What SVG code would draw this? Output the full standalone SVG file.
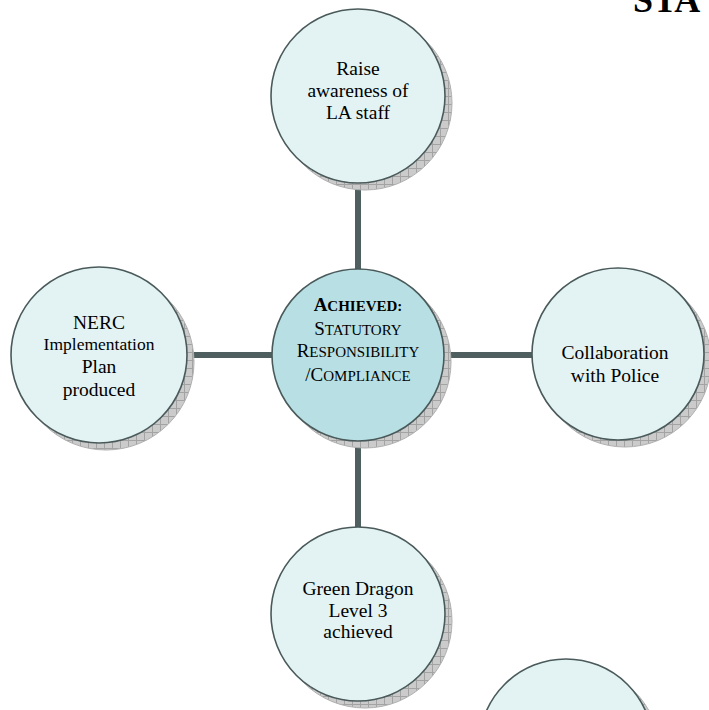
<svg xmlns="http://www.w3.org/2000/svg" width="709" height="710" viewBox="0 0 709 710">
<defs>
<pattern id="hatch" width="8" height="8" patternUnits="userSpaceOnUse">
<rect width="8" height="8" fill="#cbcbcb"/>
<path d="M0 0.5H8M0.5 0V8" stroke="#a3a3a3" stroke-width="1"/>
</pattern>
<style>
.conn{stroke:#4f5f5f;stroke-width:6;fill:none}
.shadow{fill:url(#hatch);stroke:#b0b0b0;stroke-width:1}
.node{fill:#e3f3f4;stroke:#4a5a5a;stroke-width:1.6}
.hub{fill:#b8e0e4;stroke:#4a5a5a;stroke-width:1.6}
text{font-family:"Liberation Serif","Times New Roman",serif;fill:#000;text-anchor:middle}
.t{font-size:19.5px}
.big{font-size:19px}
.sm{font-size:15px}
</style>
</defs>
<rect width="709" height="710" fill="#fff"/>
<text x="633" y="12" style="font-size:36px;font-weight:bold;text-anchor:start">STA</text>
<g id="connectors">
<line class="conn" x1="358" y1="180" x2="358" y2="270"/>
<line class="conn" x1="190" y1="355" x2="272" y2="355"/>
<line class="conn" x1="444" y1="355" x2="533" y2="355"/>
<line class="conn" x1="358" y1="440" x2="358" y2="529"/>
</g>
<g id="node-top">
<circle class="shadow" cx="365" cy="103" r="87"/>
<circle class="node" cx="358" cy="96" r="87"/>
<text class="t" x="358" y="75">Raise</text>
<text class="t" x="358" y="97">awareness of</text>
<text class="t" x="358" y="119">LA staff</text>
</g>
<g id="node-left">
<circle class="shadow" cx="106" cy="362" r="88"/>
<circle class="node" cx="99" cy="355" r="88"/>
<text class="t" x="99" y="329">NERC</text>
<text x="99" y="350" style="font-size:17.5px">Implementation</text>
<text class="t" x="99" y="373">Plan</text>
<text class="t" x="99" y="396">produced</text>
</g>
<g id="node-right">
<circle class="shadow" cx="625" cy="361" r="86"/>
<circle class="node" cx="618" cy="354" r="86"/>
<text class="t" x="615" y="359">Collaboration</text>
<text class="t" x="615" y="382">with Police</text>
</g>
<g id="node-bottom">
<circle class="shadow" cx="365" cy="621" r="87"/>
<circle class="node" cx="358" cy="614" r="87"/>
<text class="t" x="358" y="595">Green Dragon</text>
<text class="t" x="358" y="617">Level 3</text>
<text class="t" x="358" y="638">achieved</text>
</g>
<g id="node-center">
<circle class="shadow" cx="365" cy="362" r="86"/>
<circle class="hub" cx="358" cy="355" r="86"/>
<text x="358" y="311" style="font-weight:bold"><tspan class="big">A</tspan><tspan class="sm">CHIEVED:</tspan></text>
<text x="358" y="335"><tspan class="big">S</tspan><tspan class="sm">TATUTORY</tspan></text>
<text x="358" y="357"><tspan class="big">R</tspan><tspan class="sm">ESPONSIBILITY</tspan></text>
<text x="358" y="381"><tspan class="big">/C</tspan><tspan class="sm">OMPLIANCE</tspan></text>
</g>
<g id="node-partial">
<circle class="shadow" cx="573" cy="753" r="87"/>
<circle class="node" cx="566" cy="746" r="87"/>
</g>
</svg>
